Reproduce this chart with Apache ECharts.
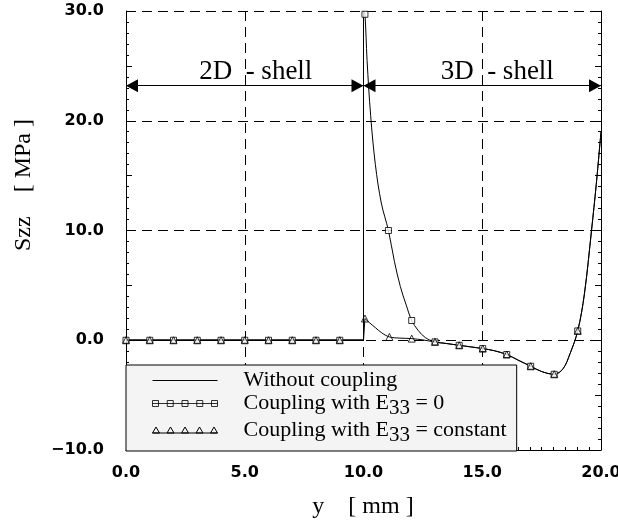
<!DOCTYPE html>
<html><head><meta charset="utf-8">
<script src="https://cdn.jsdelivr.net/npm/echarts@6/dist/echarts.min.js"></script>
<style>html,body{margin:0;padding:0;background:#fff}#c{width:618px;height:525px}</style>
</head><body><div id="c"></div>
<script>
// ---- data ----
const xTickValues = [0, 5, 10, 15, 20];
const yTickValues = [-10, 0, 10, 20, 30];
const seriesNames = ['Without coupling', 'Coupling with E33 = 0', 'Coupling with E33 = constant'];
// 2D shell region: all three curves are zero
const shell2dX = [0, 1, 2, 3, 4, 5, 6, 7, 8, 9, 10];
const shell2dY = [0, 0, 0, 0, 0, 0, 0, 0, 0, 0, 0];
// 3D shell: without coupling / E33 = 0 curve
const noCoupX = [10, 10.06, 10.15, 10.3, 10.5, 10.75, 11.05, 11.3, 11.55, 11.8, 12.03, 12.3, 12.6, 13.0, 13.5, 14.03, 14.5, 15.02, 15.5, 16.03, 16.5, 17.04, 17.5, 18.03, 18.4, 18.7, 19.02, 19.3, 19.6, 19.8, 20];
const noCoupY = [30, 29.7, 25.5, 20.5, 16, 12.5, 10, 7.2, 4.9, 3.2, 1.8, 0.9, 0.25, -0.15, -0.3, -0.46, -0.6, -0.76, -0.95, -1.3, -1.8, -2.37, -2.85, -3.1, -2.6, -1.2, 0.85, 4.2, 10, 14.2, 19];
// 3D shell: E33 = constant curve
const constX = [10.06, 10.25, 10.5, 10.75, 11.09, 11.5, 12.03, 12.5, 13.0, 13.5, 14.03, 14.5, 15.02, 15.5, 16.03, 16.5, 17.04, 17.5, 18.03, 18.4, 18.7, 19.02, 19.3, 19.6, 19.8, 20];
const constY = [1.98, 1.6, 1.15, 0.7, 0.3, 0.2, 0.15, 0.03, -0.15, -0.3, -0.46, -0.6, -0.76, -0.95, -1.3, -1.8, -2.37, -2.85, -3.1, -2.6, -1.2, 0.85, 4.2, 10, 14.2, 19];
// markers
const sqX = [0, 1, 2, 3, 4, 5, 6, 7, 8, 9, 10.06, 11.05, 12.03, 13.01, 14.03, 15.02, 16.03, 17.04, 18.03, 19.02];
const sqY = [0, 0, 0, 0, 0, 0, 0, 0, 0, 0, 29.7, 10, 1.8, -0.15, -0.46, -0.76, -1.3, -2.37, -3.1, 0.85];
const triX = [0, 1, 2, 3, 4, 5, 6, 7, 8, 9, 10.06, 11.09, 12.03, 13.01, 14.03, 15.02, 16.03, 17.04, 18.03, 19.02];
const triY = [0, 0, 0, 0, 0, 0, 0, 0, 0, 0, 1.98, 0.3, 0.15, -0.15, -0.46, -0.76, -1.3, -2.37, -3.1, 0.85];
// region annotations
const regionLabels = ['2D  - shell', '3D  - shell'];
const regionFrom = [0, 10];
const regionTo = [10, 20];
const regionLevel = 23.2;

// ---- build ----
const zip = (xs, ys) => xs.map((x, i) => [x, ys[i]]);
const serif = 'Liberation Serif';
const black = '#000';
const lineBase = { type: 'line', symbol: 'none', lineStyle: { color: black, width: 1 }, itemStyle: { color: black }, animation: false, silent: true };

const legendIcons = {
  line: 'path://M0,0M0,6L65,6M65,12',
  sq: 'path://M0,0M0,6L65,6M0,3h6v6h-6zM14.75,3h6v6h-6zM29.5,3h6v6h-6zM44.25,3h6v6h-6zM59,3h6v6h-6zM65,12',
  tri: 'path://M0,0M0,8.5L65,8.5M0,8.5L3.5,2.5L7,8.5zM14.5,8.5L18,2.5L21.5,8.5zM29,8.5L32.5,2.5L36,8.5zM43.5,8.5L47,2.5L50.5,8.5zM58,8.5L61.5,2.5L65,8.5zM65,12'
};

const chart = echarts.init(document.getElementById('c'), null, { renderer: 'canvas' });
const tickFont = { fontFamily: 'DejaVu Sans', fontWeight: 'bold', fontSize: 16, color: black };
const dash = { type: [10, 6], color: black, width: 1 };

const legendFormatter = name => {
  const m = name.match(/^(.*E)(33)(.*)$/);
  return m ? `{n|${m[1]}}{sub|${m[2]}}{n|${m[3]}}` : `{n|${name}}`;
};

const option = {
  backgroundColor: '#fff',
  animation: false,
  grid: { left: 126, right: 17, top: 11, bottom: 75, containLabel: false, outerBoundsMode: 'none' },
  xAxis: [{
    type: 'value', min: xTickValues[0], max: xTickValues[xTickValues.length - 1], interval: 5,
    axisLine: { show: true, onZero: false, lineStyle: { color: black, width: 1 } },
    axisTick: { show: true, inside: true, length: 6, lineStyle: { color: black } },
    minorTick: { show: true, splitNumber: 10, length: 3, lineStyle: { color: black } },
    axisLabel: { ...tickFont, margin: 15, formatter: v => v.toFixed(1) },
    splitLine: { show: true, lineStyle: dash }
  }],
  yAxis: [{
    type: 'value', min: -10, max: 30, interval: 5, position: 'left',
    axisLine: { show: true, onZero: false, lineStyle: { color: black, width: 1 } },
    axisTick: { show: true, inside: true, length: 6, lineStyle: { color: black } },
    minorTick: { show: true, splitNumber: 5, length: 3, lineStyle: { color: black } },
    axisLabel: { ...tickFont, margin: 22, formatter: v => (yTickValues.includes(v) ? v.toFixed(1).replace('-', '\u2212') : '') },
    splitLine: { show: false }
  }, {
    type: 'value', min: -10, max: 30, interval: 5, position: 'right',
    axisLine: { show: true, onZero: false, lineStyle: { color: black, width: 1 } },
    axisTick: { show: true, inside: true, length: 6, lineStyle: { color: black } },
    minorTick: { show: true, splitNumber: 5, length: 3, lineStyle: { color: black } },
    axisLabel: { show: false }, splitLine: { show: false }
  }, {
    type: 'value', min: -10, max: 30, interval: 10, position: 'left',
    axisLine: { show: false }, axisTick: { show: false }, axisLabel: { show: false },
    splitLine: { show: true, lineStyle: dash }
  }],
  legend: {
    orient: 'vertical', left: 126, top: 365,
    padding: [4, 10, 5, 26], itemGap: 0,
    itemWidth: 65, itemHeight: 12,
    backgroundColor: '#f4f4f4', borderColor: black, borderWidth: 1,
    selectedMode: false,
    textStyle: {
      fontFamily: serif, fontSize: 22, color: black, lineHeight: 23, padding: [0, 0, 0, 21],
      rich: {
        n: { fontFamily: serif, fontSize: 22, color: black, lineHeight: 23 },
        sub: { fontFamily: serif, fontSize: 21, color: black, lineHeight: 23, padding: [5, 0, -5, 0] }
      }
    },
    formatter: legendFormatter,
    data: [
      { name: seriesNames[0], icon: legendIcons.line, itemStyle: { color: 'rgba(0,0,0,0)', borderColor: black, borderWidth: 1 } },
      { name: seriesNames[1], icon: legendIcons.sq, itemStyle: { color: 'rgba(0,0,0,0)', borderColor: black, borderWidth: 1 } },
      { name: seriesNames[2], icon: legendIcons.tri, itemStyle: { color: 'rgba(0,0,0,0)', borderColor: black, borderWidth: 1 } }
    ]
  },
  graphic: [
    { type: 'text', x: 363, y: 507, style: { text: 'y    [ mm ]', font: '24px "Liberation Serif"', fill: black, textAlign: 'center', textVerticalAlign: 'middle' } },
    { type: 'text', x: 24, y: 185, rotation: Math.PI / 2, style: { text: 'Szz    [ MPa ]', font: '24px "Liberation Serif"', fill: black, textAlign: 'center', textVerticalAlign: 'middle' } }
  ],
  series: [
    { ...lineBase, name: seriesNames[0], lineStyle: { color: black, width: 1.3 }, data: zip(shell2dX, shell2dY),
      markLine: {
        silent: true, animation: false,
        symbol: ['triangle', 'triangle'], symbolSize: [13, 12], symbolOffset: [[0, 6], [0, 6]],
        lineStyle: { color: black, width: 1, type: 'solid' },
        label: { show: true, position: 'middle', distance: 0, formatter: '{b}', fontFamily: serif, fontSize: 27, color: black },
        emphasis: { disabled: true },
        data: regionLabels.map((lab, i) => [
          { name: lab, coord: [regionFrom[i], regionLevel], label: { padding: [0, 0, 0, i === 0 ? 22 : 30] } },
          { coord: [regionTo[i], regionLevel] }
        ])
      }
    },
    { ...lineBase, name: seriesNames[0], data: [[shell2dX[shell2dX.length - 1], shell2dY[shell2dY.length - 1]], [noCoupX[0], noCoupY[0]]] },
    { ...lineBase, name: seriesNames[0], smooth: 0.35, data: zip(noCoupX, noCoupY) },
    { ...lineBase, name: seriesNames[2], lineStyle: { color: black, width: 1.3 }, data: zip(shell2dX, shell2dY) },
    { ...lineBase, name: seriesNames[2], data: [[shell2dX[shell2dX.length - 1], shell2dY[shell2dY.length - 1]], [constX[0], constY[0]]] },
    { ...lineBase, name: seriesNames[2], smooth: 0.35, data: zip(constX, constY) },
    { type: 'scatter', name: seriesNames[1], symbol: 'rect', symbolSize: 6, z: 5, silent: true, animation: false,
      itemStyle: { color: '#fff', borderColor: black, borderWidth: 1 }, data: zip(sqX, sqY) },
    { type: 'scatter', name: seriesNames[2], symbol: 'triangle', symbolSize: 7, z: 5, silent: true, animation: false,
      itemStyle: { color: 'rgba(255,255,255,0)', borderColor: black, borderWidth: 1 }, data: zip(triX, triY) }
  ]
};
chart.setOption(option);
</script></body></html>
